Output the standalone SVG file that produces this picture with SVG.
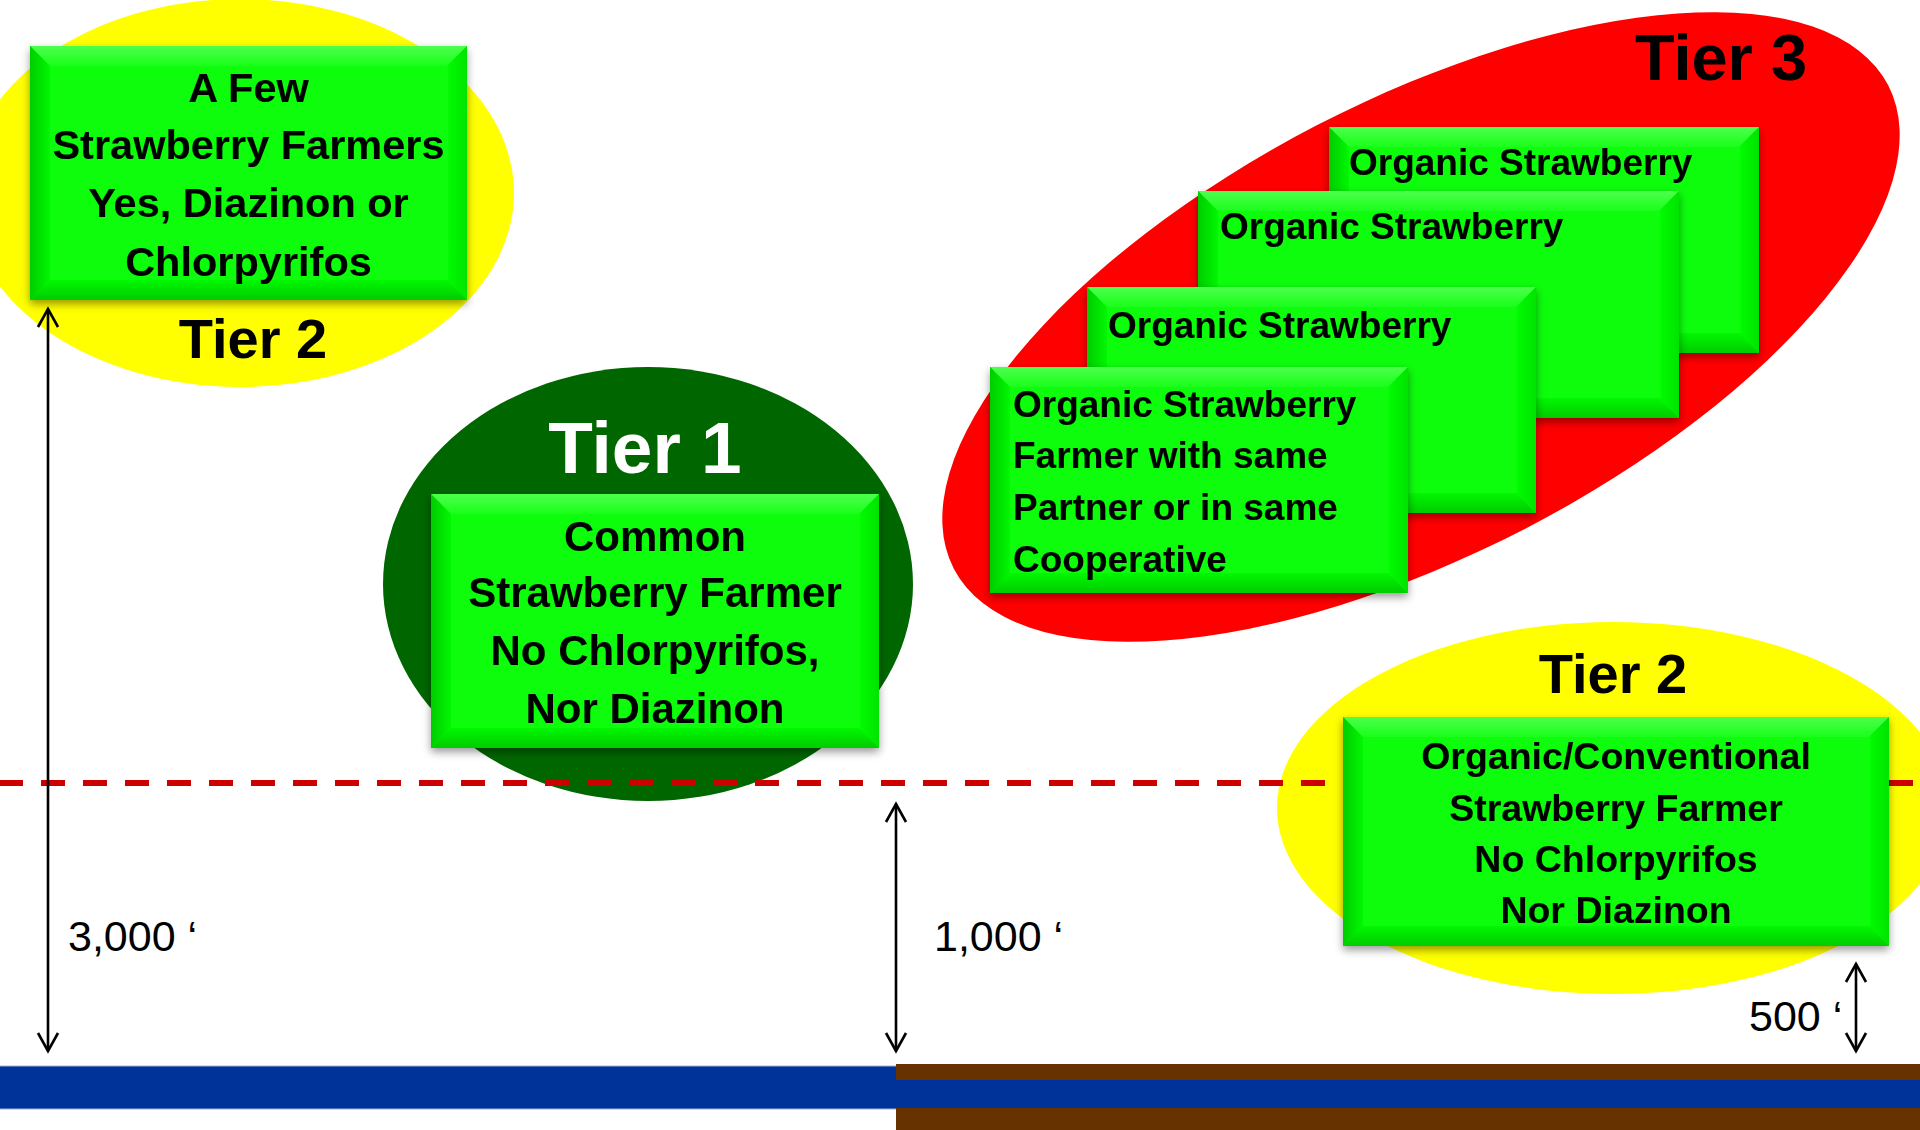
<svg xmlns="http://www.w3.org/2000/svg" width="1920" height="1130" viewBox="0 0 1920 1130">
<style>
.t{font-family:"Liberation Sans",Arial,sans-serif;font-weight:bold;fill:#000}
.dim{font-family:"Liberation Sans",Arial,sans-serif;font-size:43px;fill:#000}
.face{fill:#07FD07}
.bt{fill:url(#gT)}
.bl{fill:url(#gL)}
.br{fill:url(#gR)}
.bb{fill:url(#gB)}
.arrow{stroke:#000;stroke-width:2.6;fill:none;marker-start:url(#ah);marker-end:url(#ah)}
</style>
<defs>
<linearGradient id="gT" x1="0" y1="0" x2="0" y2="1"><stop offset="0" stop-color="#4CFF4C"/><stop offset="1" stop-color="#1AFF1A"/></linearGradient>
<linearGradient id="gL" x1="0" y1="0" x2="1" y2="0"><stop offset="0" stop-color="#00CC00"/><stop offset="1" stop-color="#06F806"/></linearGradient>
<linearGradient id="gR" x1="0" y1="0" x2="1" y2="0"><stop offset="0" stop-color="#07FC07"/><stop offset="1" stop-color="#00E400"/></linearGradient>
<linearGradient id="gB" x1="0" y1="0" x2="0" y2="1"><stop offset="0" stop-color="#06F806"/><stop offset="1" stop-color="#00CC00"/></linearGradient>
<filter id="sh" x="-10%" y="-10%" width="120%" height="125%"><feDropShadow dx="0" dy="4" stdDeviation="4" flood-color="#000" flood-opacity="0.4"/></filter>
<marker id="ah" viewBox="0 0 22 24" refX="19" refY="12" markerWidth="22" markerHeight="24" markerUnits="userSpaceOnUse" orient="auto-start-reverse"><path d="M1,2 L19,12 L1,22" fill="none" stroke="#000" stroke-width="2.6"/></marker>
</defs>
<rect width="1920" height="1130" fill="#FFFFFF"/>

<g id="ground">
<rect x="0" y="1066" width="896" height="43" fill="#003399"/>
<line x1="0" y1="1066" x2="896" y2="1066" stroke="#9DB3D8" stroke-width="1"/>
<line x1="0" y1="1109" x2="896" y2="1109" stroke="#9DB3D8" stroke-width="1"/>
<rect x="896" y="1064" width="1024" height="66" fill="#663300"/>
<rect x="896" y="1080" width="1024" height="28" fill="#003399"/>
</g>

<g id="zones">
<ellipse id="zone-tier2-left" cx="240" cy="193" rx="274" ry="194" fill="#FFFF00"/>
<ellipse id="zone-tier1" cx="648" cy="584" rx="265" ry="217" fill="#006600"/>
<ellipse id="zone-tier3" cx="1421" cy="327" rx="526" ry="227" transform="rotate(-27.35 1421 327)" fill="#FF0000"/>
<ellipse id="zone-tier2-right" cx="1613" cy="808" rx="336" ry="186" fill="#FFFF00"/>
</g>

<g id="labels">
<text class="t" x="253" y="358" font-size="56" text-anchor="middle">Tier 2</text>
<text class="t" x="645" y="473" font-size="73" text-anchor="middle" style="fill:#FFFFFF">Tier 1</text>
<text class="t" x="1721" y="80" font-size="65" text-anchor="middle">Tier 3</text>
<text class="t" x="1613" y="693" font-size="56" text-anchor="middle">Tier 2</text>
</g>

<g id="boundary">
<line x1="0" y1="783" x2="1920" y2="783" stroke="#CC0000" stroke-width="6" stroke-dasharray="24 18" stroke-dashoffset="1"/>
</g>

<g id="node-tier2-left" filter="url(#sh)">
<rect class="face" x="30" y="46" width="437" height="254"/>
<polygon class="bt" points="30,46 467,46 447,66 50,66"/>
<polygon class="bl" points="30,46 50,66 50,280 30,300"/>
<polygon class="br" points="467,46 447,66 447,280 467,300"/>
<polygon class="bb" points="30,300 50,280 447,280 467,300"/>
<text class="t" font-size="41.5" text-anchor="middle"><tspan x="248.5" y="102">A Few</tspan><tspan x="248.5" y="159">Strawberry Farmers</tspan><tspan x="248.5" y="217">Yes, Diazinon or</tspan><tspan x="248.5" y="276">Chlorpyrifos</tspan></text>
</g>

<g id="node-tier1" filter="url(#sh)">
<rect class="face" x="431" y="494" width="448" height="254"/>
<polygon class="bt" points="431,494 879,494 859,514 451,514"/>
<polygon class="bl" points="431,494 451,514 451,728 431,748"/>
<polygon class="br" points="879,494 859,514 859,728 879,748"/>
<polygon class="bb" points="431,748 451,728 859,728 879,748"/>
<text class="t" font-size="42" text-anchor="middle"><tspan x="655" y="551">Common</tspan><tspan x="655" y="607">Strawberry Farmer</tspan><tspan x="655" y="665">No Chlorpyrifos,</tspan><tspan x="655" y="723">Nor Diazinon</tspan></text>
</g>

<g id="node-tier3-a" filter="url(#sh)">
<rect class="face" x="1329" y="127" width="430" height="226"/>
<polygon class="bt" points="1329,127 1759,127 1739,147 1349,147"/>
<polygon class="bl" points="1329,127 1349,147 1349,333 1329,353"/>
<polygon class="br" points="1759,127 1739,147 1739,333 1759,353"/>
<polygon class="bb" points="1329,353 1349,333 1739,333 1759,353"/>
<text class="t" x="1349" y="175" font-size="37">Organic Strawberry</text>
</g>

<g id="node-tier3-b" filter="url(#sh)">
<rect class="face" x="1198" y="191" width="481" height="227"/>
<polygon class="bt" points="1198,191 1679,191 1659,211 1218,211"/>
<polygon class="bl" points="1198,191 1218,211 1218,398 1198,418"/>
<polygon class="br" points="1679,191 1659,211 1659,398 1679,418"/>
<polygon class="bb" points="1198,418 1218,398 1659,398 1679,418"/>
<text class="t" x="1220" y="239" font-size="37">Organic Strawberry</text>
</g>

<g id="node-tier3-c" filter="url(#sh)">
<rect class="face" x="1087" y="287" width="449" height="226"/>
<polygon class="bt" points="1087,287 1536,287 1516,307 1107,307"/>
<polygon class="bl" points="1087,287 1107,307 1107,493 1087,513"/>
<polygon class="br" points="1536,287 1516,307 1516,493 1536,513"/>
<polygon class="bb" points="1087,513 1107,493 1516,493 1536,513"/>
<text class="t" x="1108" y="338" font-size="37">Organic Strawberry</text>
</g>

<g id="node-tier3-d" filter="url(#sh)">
<rect class="face" x="990" y="367" width="418" height="226"/>
<polygon class="bt" points="990,367 1408,367 1388,387 1010,387"/>
<polygon class="bl" points="990,367 1010,387 1010,573 990,593"/>
<polygon class="br" points="1408,367 1388,387 1388,573 1408,593"/>
<polygon class="bb" points="990,593 1010,573 1388,573 1408,593"/>
<text class="t" font-size="37"><tspan x="1013" y="417">Organic Strawberry</tspan><tspan x="1013" y="468">Farmer with same</tspan><tspan x="1013" y="520">Partner or in same</tspan><tspan x="1013" y="572">Cooperative</tspan></text>
</g>

<g id="node-tier2-right" filter="url(#sh)">
<rect class="face" x="1343" y="717" width="546" height="229"/>
<polygon class="bt" points="1343,717 1889,717 1869,737 1363,737"/>
<polygon class="bl" points="1343,717 1363,737 1363,926 1343,946"/>
<polygon class="br" points="1889,717 1869,737 1869,926 1889,946"/>
<polygon class="bb" points="1343,946 1363,926 1869,926 1889,946"/>
<text class="t" font-size="37.5" text-anchor="middle"><tspan x="1616" y="769">Organic/Conventional</tspan><tspan x="1616" y="821">Strawberry Farmer</tspan><tspan x="1616" y="872">No Chlorpyrifos</tspan><tspan x="1616" y="923">Nor Diazinon</tspan></text>
</g>

<g id="connectors">
<line class="arrow" x1="48" y1="309" x2="48" y2="1051"/>
<line class="arrow" x1="896" y1="804" x2="896" y2="1051"/>
<line class="arrow" x1="1856" y1="964" x2="1856" y2="1051"/>
<text class="dim" x="68" y="951">3,000 ‘</text>
<text class="dim" x="934" y="951">1,000 ‘</text>
<text class="dim" x="1749" y="1031">500 ‘</text>
</g>
</svg>
